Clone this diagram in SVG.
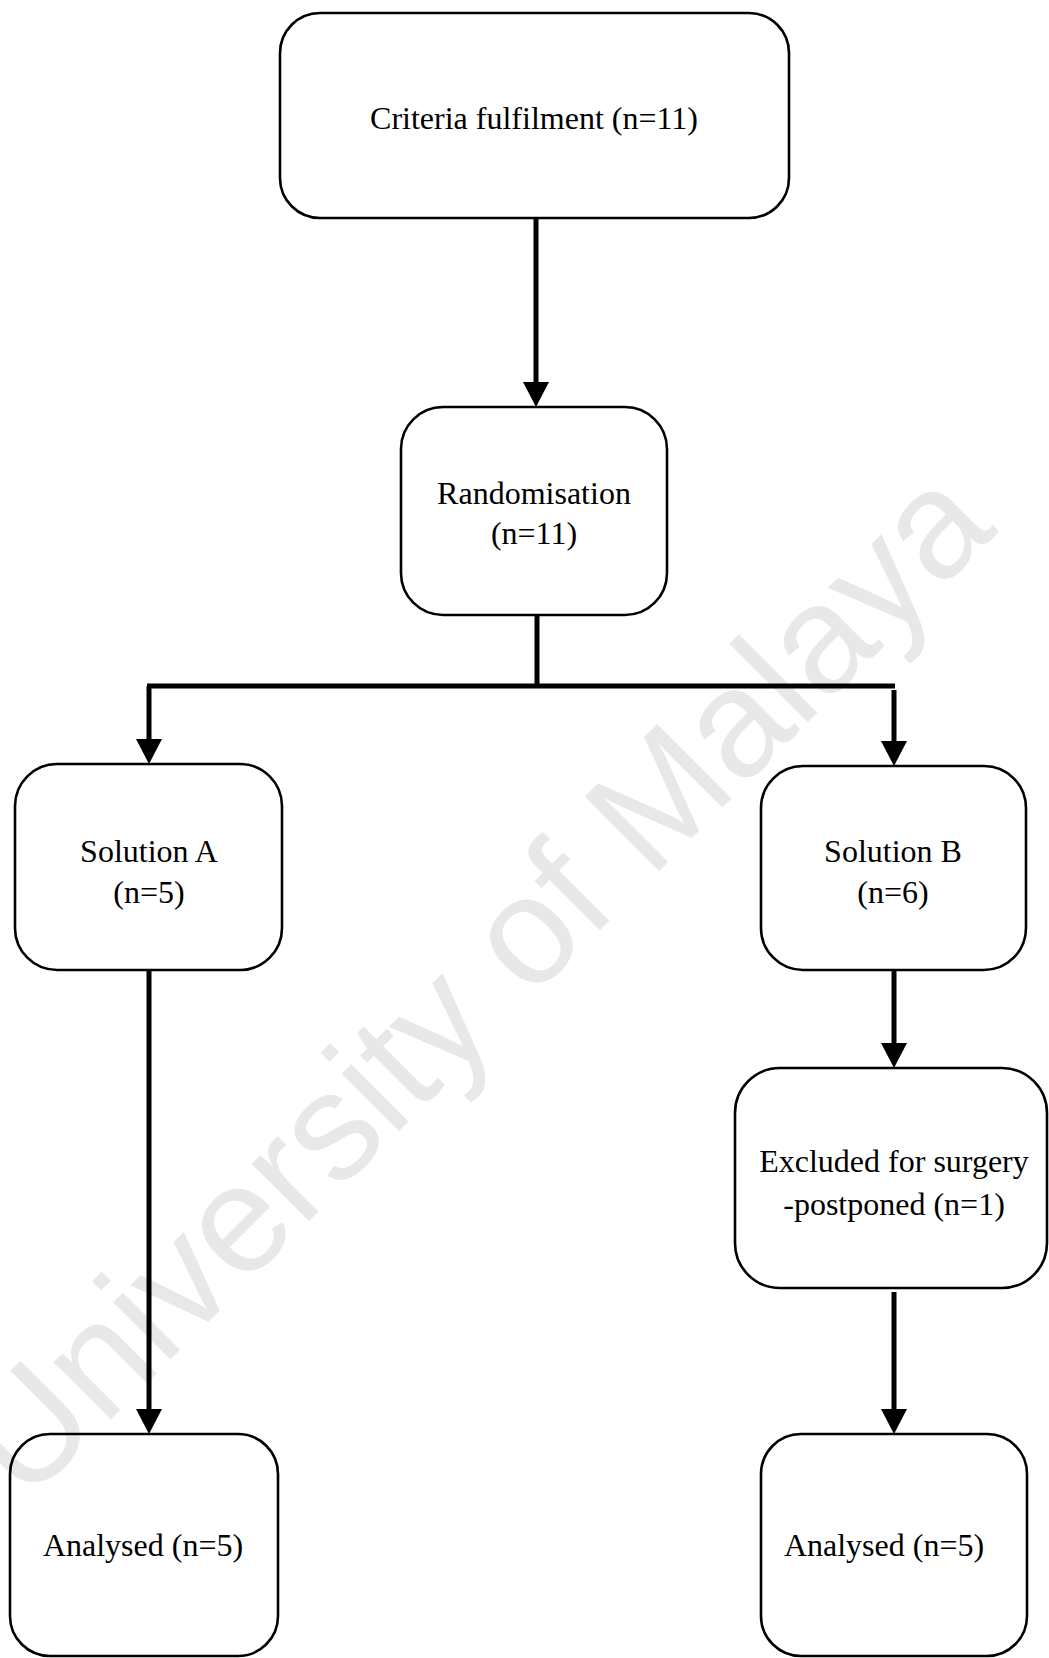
<svg xmlns="http://www.w3.org/2000/svg" width="1049" height="1658" viewBox="0 0 1049 1658">
<style>
.box{fill:none;stroke:#000;stroke-width:2.6}
.lbl{font-family:"Liberation Serif","Times New Roman",serif;font-size:32px;fill:#000;text-anchor:middle}
.con{fill:none;stroke:#000;stroke-width:5}
.wm{font-family:"Liberation Sans",Arial,sans-serif;font-size:153px;fill:#e8e8e8;text-anchor:middle}
</style>
<defs>
<marker id="ah" markerUnits="userSpaceOnUse" markerWidth="25" markerHeight="26" refX="0" refY="13" orient="auto" viewBox="0 0 25 26">
<path d="M0,0 L25,13 L0,26 z" fill="#000"/>
</marker>
</defs>
<rect width="1049" height="1658" fill="#fff"/>
<text class="wm" x="512" y="1018" transform="rotate(-45 512 1018)">University of Malaya</text>
<g id="connectors">
<line class="con" x1="536" y1="218" x2="536" y2="382" marker-end="url(#ah)"/>
<polyline class="con" points="537,615 537,686"/>
<line class="con" x1="147" y1="686" x2="895" y2="686"/>
<line class="con" x1="149" y1="686" x2="149" y2="739" marker-end="url(#ah)"/>
<line class="con" x1="894" y1="690" x2="894" y2="741" marker-end="url(#ah)"/>
<line class="con" x1="149" y1="970" x2="149" y2="1409" marker-end="url(#ah)"/>
<line class="con" x1="894" y1="970" x2="894" y2="1043" marker-end="url(#ah)"/>
<line class="con" x1="894" y1="1292" x2="894" y2="1409" marker-end="url(#ah)"/>
</g>
<g id="criteria">
<rect class="box" x="280" y="13" width="509" height="205" rx="40"/>
<text class="lbl" x="534" y="129">Criteria fulfilment (n=11)</text>
</g>
<g id="randomisation">
<rect class="box" x="401" y="407" width="266" height="208" rx="42"/>
<text class="lbl" x="534" y="504">Randomisation</text>
<text class="lbl" x="534" y="544">(n=11)</text>
</g>
<g id="solutionA">
<rect class="box" x="15" y="764" width="267" height="206" rx="42"/>
<text class="lbl" x="149" y="862">Solution A</text>
<text class="lbl" x="149" y="903">(n=5)</text>
</g>
<g id="solutionB">
<rect class="box" x="761" y="766" width="265" height="204" rx="42"/>
<text class="lbl" x="893" y="862">Solution B</text>
<text class="lbl" x="893" y="903">(n=6)</text>
</g>
<g id="excluded">
<rect class="box" x="735" y="1068" width="312" height="220" rx="45"/>
<text class="lbl" x="894" y="1172">Excluded for surgery</text>
<text class="lbl" x="894" y="1215">-postponed (n=1)</text>
</g>
<g id="analysedA">
<rect class="box" x="10" y="1434" width="268" height="222" rx="40"/>
<text class="lbl" x="143" y="1556">Analysed (n=5)</text>
</g>
<g id="analysedB">
<rect class="box" x="761" y="1434" width="266" height="222" rx="40"/>
<text class="lbl" x="884" y="1556">Analysed (n=5)</text>
</g>
</svg>
